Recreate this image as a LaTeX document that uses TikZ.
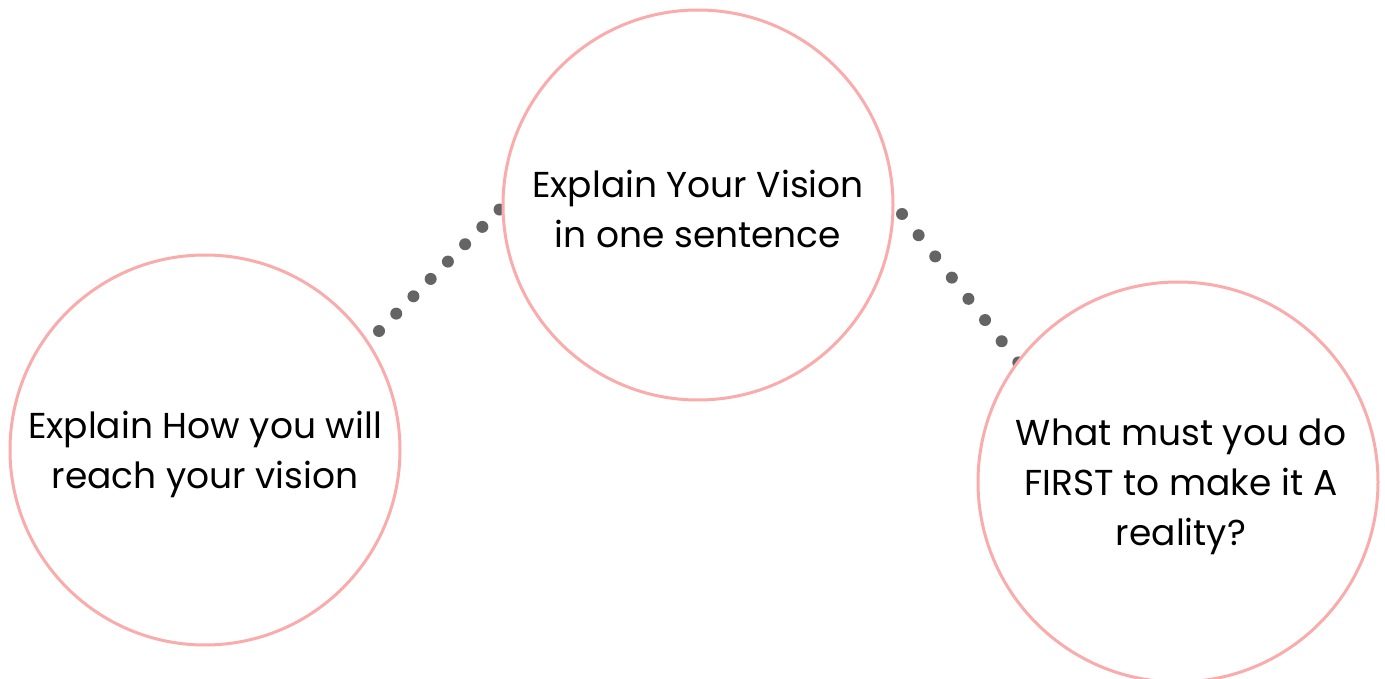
\documentclass[tikz,border=0pt]{standalone}
\usepackage{fontspec}
\setmainfont{Poppins}
\definecolor{ringpink}{HTML}{FAACAC}
\definecolor{dotgray}{HTML}{646464}
\begin{document}
\begin{tikzpicture}[x=1pt,y=-1pt,
  ring/.style={circle,draw=ringpink,line width=3pt,fill=white,inner sep=0pt},
  ringtext/.style={align=center,inner sep=0pt,font=\fontsize{36}{50}\selectfont},
  dotline/.style={draw=dotgray,line width=12pt,line cap=round,dash pattern=on 0pt off #1}]
\useasboundingbox (0,0) rectangle (1385,679);
\coordinate (l1) at (379,331);
\coordinate (l2) at (510,199);
\coordinate (r1) at (902,214);
\coordinate (r2) at (1025,371);
\draw[dotline=24.45pt] (l1) -- (l2);
\draw[dotline=26.94pt] (r1) -- (r2);
\node[ring,minimum size=390pt] (vision) at (698,205) {};
\node[ring,minimum size=390pt] (how) at (205,450) {};
\node[ring,minimum size=400pt] (first) at (1178,482) {};
\node[ringtext] (visiontext) at ([yshift=-4pt]vision.center) {Explain Your Vision\\in one sentence};
\node[ringtext] (howtext) at ([yshift=-4pt]how.center) {Explain How you will\\reach your vision};
\node[ringtext] (firsttext) at ([xshift=3pt,yshift=-5pt]first.center) {What must you do\\FIRST to make it A\\reality?};
\end{tikzpicture}
\end{document}
